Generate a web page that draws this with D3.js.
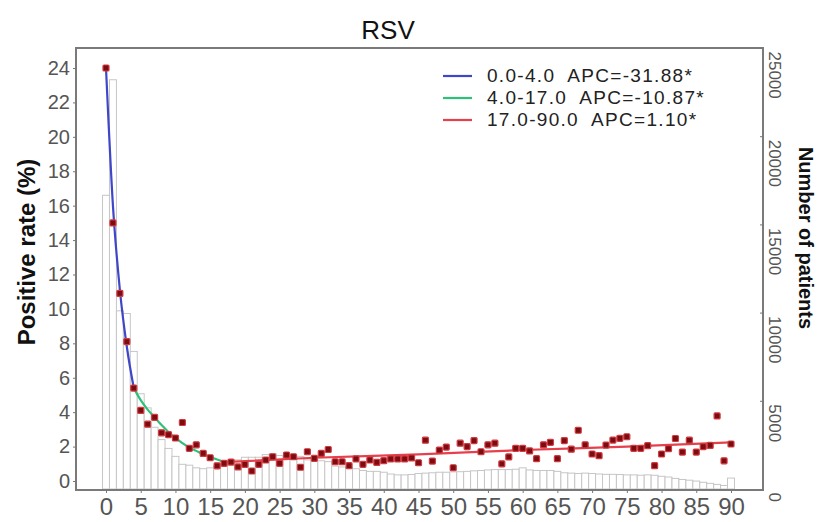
<!DOCTYPE html>
<html>
<head>
<meta charset="utf-8">
<script src="https://cdn.jsdelivr.net/npm/d3@7"></script>
<style>
  body { margin: 0; background: #fff; }
  svg { font-family: "Liberation Sans", Arial, sans-serif; }
</style>
</head>
<body>
<svg id="chart"></svg>
<script>
// RSV positive rate by age, with joinpoint fit and patient counts
const ages = d3.range(0, 91);

const positiveRate = [
  24.0, 15.0, 10.9, 8.1, 5.4, 4.1, 3.3, 3.7, 2.8, 2.7,
  2.5, 3.4, 1.9, 2.1, 1.6, 1.35, 0.88, 1.03, 1.1, 0.82,
  0.97, 0.58, 0.97, 1.22, 1.41, 1.03, 1.51, 1.41, 0.8, 1.7,
  1.32, 1.6, 1.83, 1.12, 1.12, 0.89, 1.28, 0.97, 1.22, 1.08,
  1.18, 1.28, 1.28, 1.28, 1.34, 1.06, 2.37, 1.16, 1.8, 1.97,
  0.77, 2.2, 2.0, 2.35, 1.7, 2.1, 2.2, 1.0, 1.4, 1.9,
  1.9, 1.75, 1.3, 2.1, 2.25, 1.3, 2.35, 1.85, 2.95, 2.1,
  1.57, 1.47, 2.09, 2.38, 2.48, 2.57, 1.9, 1.9, 2.05, 0.89,
  1.57, 1.88, 2.47, 1.68, 2.37, 1.68, 2.0, 2.07, 3.78, 1.17,
  2.15
];

const patients = [
  16650, 23200, 10100, 9950, 7800, 5400, 4600, 3500, 2800, 2300,
  1850, 1400, 1350, 1200, 1150, 1200, 1300, 1400, 1500, 1650,
  1800, 1800, 1800, 1950, 2000, 1900, 1900, 1850, 1850, 1650,
  1650, 1600, 1550, 1300, 1250, 1200, 1150, 1050, 1000, 1000,
  950, 850, 800, 800, 820, 880, 900, 920, 950, 950,
  970, 980, 1000, 1030, 1050, 1080, 1100, 1100, 1100, 1120,
  1200, 1080, 1050, 1050, 1050, 1000, 920, 900, 880, 900,
  880, 850, 830, 830, 820, 800, 800, 780, 800, 780,
  720, 680, 600, 540, 500, 450, 380, 320, 260, 200,
  620
];

// joinpoint segments
const blueAges = [0, 1, 2, 3, 4];
const blueFit = [24.0, 16.0, 11.1, 7.8, 5.4];
const greenAges = [4, 5, 6, 7, 8, 9, 10, 11, 12, 13, 14, 15, 16, 17];
const greenFit = [5.4, 4.7, 4.15, 3.7, 3.25, 2.85, 2.5, 2.2, 1.95, 1.75, 1.55, 1.4, 1.25, 1.12];
const redAges = [17, 30, 45, 60, 75, 90];
const redFit = [1.1, 1.35, 1.55, 1.8, 2.0, 2.25];

const legendLabels = [
  "0.0-4.0  APC=-31.88*",
  "4.0-17.0  APC=-10.87*",
  "17.0-90.0  APC=1.10*"
];
const segmentColors = ["#3f46c8", "#2fc07a", "#e6404c"];

const leftTicks = [0, 2, 4, 6, 8, 10, 12, 14, 16, 18, 20, 22, 24];
const rightTicks = [0, 5000, 10000, 15000, 20000, 25000];
const ageTicks = [0, 5, 10, 15, 20, 25, 30, 35, 40, 45, 50, 55, 60, 65, 70, 75, 80, 85, 90];

const svg = d3.select("#chart").attr("width", 821).attr("height", 522);

const x = d3.scaleLinear().domain([0, 90]).range([106, 731]);
const yLeft = d3.scaleLinear().domain([0, 24]).range([481, 68]);
const yRight = d3.scaleLinear().domain([0, 25000]).range([489, 48]);

const frame = { left: 76, top: 48, right: 763, bottom: 490 };

// patient count bars (right axis)
const barWidth = x(1) - x(0);
svg
  .append("g")
  .selectAll("rect")
  .data(ages)
  .enter()
  .append("rect")
  .attr("x", (d) => x(d) - barWidth / 2)
  .attr("y", (d) => yRight(patients[d]))
  .attr("width", barWidth)
  .attr("height", (d) => yRight(0) - yRight(patients[d]))
  .attr("fill", "#fff")
  .attr("stroke", "#c6c6c6")
  .attr("stroke-width", 1);

// frame
svg
  .append("rect")
  .attr("x", frame.left)
  .attr("y", frame.top)
  .attr("width", frame.right - frame.left)
  .attr("height", frame.bottom - frame.top)
  .attr("fill", "none")
  .attr("stroke", "#7a7a7a")
  .attr("stroke-width", 2);

// fitted segments
const line = d3
  .line()
  .x((d) => x(d[0]))
  .y((d) => yLeft(d[1]))
  .curve(d3.curveMonotoneX);

const segments = [
  d3.zip(blueAges, blueFit),
  d3.zip(greenAges, greenFit),
  d3.zip(redAges, redFit)
];

svg
  .append("g")
  .selectAll("path")
  .data(segments)
  .enter()
  .append("path")
  .attr("d", line)
  .attr("fill", "none")
  .attr("stroke", (d, i) => segmentColors[i])
  .attr("stroke-width", 2.2);

// observed positive rate
svg
  .append("g")
  .selectAll("rect")
  .data(ages)
  .enter()
  .append("rect")
  .attr("x", (d) => x(d) - 3)
  .attr("y", (d) => yLeft(positiveRate[d]) - 3)
  .attr("width", 6)
  .attr("height", 6)
  .attr("rx", 1)
  .attr("fill", "#7a0c12")
  .attr("stroke", "#d23a3f")
  .attr("stroke-width", 1.2);

// axes
function styleAxis(g) {
  g.select(".domain").remove();
  g.selectAll(".tick line").attr("stroke", "#777");
  g.selectAll(".tick text").attr("fill", "#555");
}

svg
  .append("g")
  .attr("transform", "translate(" + frame.left + ",0)")
  .call(d3.axisLeft(yLeft).tickValues(leftTicks).tickSize(3).tickPadding(3))
  .call(styleAxis)
  .selectAll("text")
  .attr("font-size", 20);

svg
  .append("g")
  .attr("transform", "translate(0," + frame.bottom + ")")
  .call(d3.axisBottom(x).tickValues(ageTicks).tickSize(3).tickPadding(5))
  .call(styleAxis)
  .selectAll("text")
  .attr("font-size", 24);

svg
  .append("g")
  .attr("transform", "translate(" + frame.right + ",0)")
  .call(
    d3.axisRight(yRight).tickValues(rightTicks).tickSize(-3).tickFormat(d3.format("d"))
  )
  .call(styleAxis)
  .selectAll("text")
  .attr("x", null)
  .attr("dy", null)
  .attr("font-size", 17)
  .attr("text-anchor", "start")
  .attr("transform", "translate(6,3) rotate(90)");

// titles
svg
  .append("text")
  .attr("x", 388)
  .attr("y", 39)
  .attr("text-anchor", "middle")
  .attr("font-size", 26)
  .attr("fill", "#111")
  .text("RSV");

svg
  .append("text")
  .attr("transform", "translate(35,252) rotate(-90)")
  .attr("text-anchor", "middle")
  .attr("font-size", 24)
  .attr("font-weight", "bold")
  .attr("fill", "#111")
  .text("Positive rate (%)");

svg
  .append("text")
  .attr("transform", "translate(799,238) rotate(90)")
  .attr("text-anchor", "middle")
  .attr("font-size", 20)
  .attr("font-weight", "bold")
  .attr("fill", "#111")
  .text("Number of patients");

// legend
const legend = svg
  .append("g")
  .selectAll("g")
  .data(legendLabels)
  .enter()
  .append("g")
  .attr("transform", (d, i) => "translate(443," + (76 + i * 22) + ")");

legend
  .append("line")
  .attr("x1", 0)
  .attr("x2", 29)
  .attr("stroke", (d, i) => segmentColors[i])
  .attr("stroke-width", 2.2);

legend
  .append("text")
  .attr("x", 44)
  .attr("y", 6)
  .attr("font-size", 19)
  .attr("letter-spacing", 1.3)
  .attr("fill", "#222")
  .attr("xml:space", "preserve")
  .style("white-space", "pre")
  .text((d) => d);
</script>
</body>
</html>
